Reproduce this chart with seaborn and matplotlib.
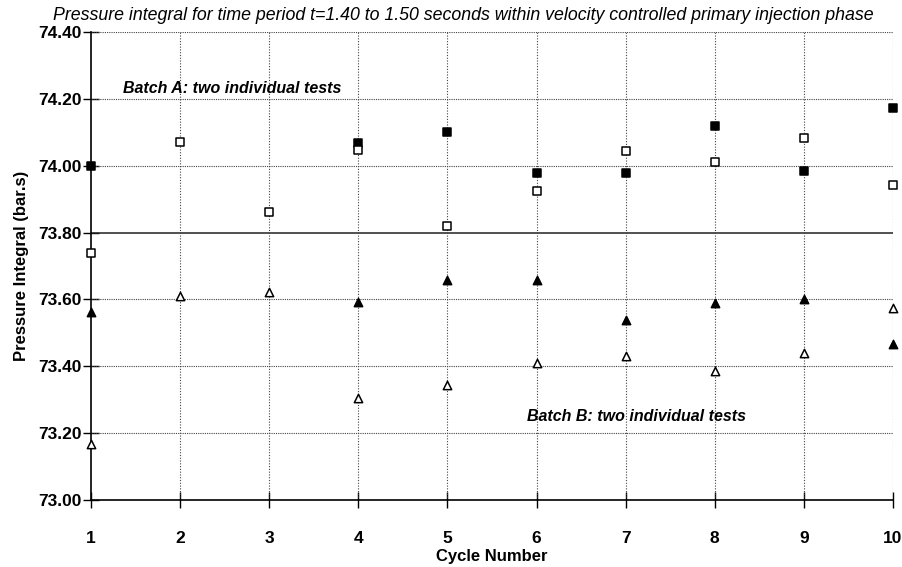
import numpy as np
import pandas as pd
import matplotlib
matplotlib.use("Agg")
import matplotlib.pyplot as plt
import seaborn as sns

cycles = [1, 2, 3, 4, 5, 6, 7, 8, 9, 10]
batch_a_test1 = [74.00, np.nan, np.nan, 74.068, 74.100, 73.977, 73.977, 74.120, 73.985, 74.173]
batch_a_test2 = [73.740, 74.072, 73.862, 74.048, 73.820, 73.923, 74.045, 74.011, 74.084, 73.942]
batch_b_test1 = [73.562, np.nan, np.nan, 73.593, 73.657, 73.657, 73.538, 73.590, 73.602, 73.468]
batch_b_test2 = [73.167, 73.610, 73.623, 73.305, 73.345, 73.410, 73.430, 73.387, 73.440, 73.575]
y_ticks = [73.00, 73.20, 73.40, 73.60, 73.80, 74.00, 74.20, 74.40]

sns.set_style("white")
plt.rcParams['font.family'] = ['Liberation Sans', 'DejaVu Sans']
plt.rcParams['text.color'] = 'black'
plt.rcParams['axes.labelcolor'] = 'black'
plt.rcParams['xtick.color'] = 'black'
plt.rcParams['ytick.color'] = 'black'

fig = plt.figure(figsize=(9.03, 5.67), dpi=100)
ax = fig.add_axes([91/903, 1-500/567, (893-91)/903, (500-32)/567])

series = [
    (batch_a_test1, 's', 'black'),
    (batch_a_test2, 's', 'white'),
    (batch_b_test1, '^', 'black'),
    (batch_b_test2, '^', 'white'),
]
for vals, mk, fc in series:
    df = pd.DataFrame({"Cycle": cycles, "Value": vals}).dropna()
    sns.scatterplot(data=df, x="Cycle", y="Value", marker=mk, s=36,
                    color=fc, edgecolor='black', linewidth=1.1, ax=ax,
                    clip_on=False, zorder=5)

ax.set_xlim(1, 10)
ax.set_ylim(73.0, 74.4)
ax.set_xticks(cycles)
ax.set_xticklabels([str(c) for c in cycles], fontweight='bold', fontsize=12.5)
ax.set_yticks(y_ticks)
ax.set_yticklabels([f"{t:.2f}" for t in y_ticks], fontweight='bold', fontsize=12.5)
ax.tick_params(axis='both', direction='inout', length=11, width=1, color='black',
               left=True, bottom=True)
ax.tick_params(axis='x', pad=17)
ax.tick_params(axis='y', pad=1)

for t in y_ticks[1:]:
    if abs(t - 73.80) < 1e-6:
        ax.axhline(t, color='#222222', lw=1.1, zorder=1)
    else:
        ax.axhline(t, color='#444444', lw=0.8, ls=(0, (1, 1)), zorder=1)
for c in cycles[1:]:
    ax.axvline(c, color='#444444', lw=0.8, ls=(0, (1, 1.5)), zorder=1)

for s in ['top', 'right']:
    ax.spines[s].set_visible(False)
ax.spines['left'].set_color('black')
ax.spines['left'].set_linewidth(1.2)
ax.spines['bottom'].set_color('black')
ax.spines['bottom'].set_linewidth(1.2)

ax.set_xlabel("Cycle Number", fontweight='bold', fontsize=12, labelpad=2)
ax.set_ylabel("Pressure Integral (bar.s)", fontweight='bold', fontsize=12, labelpad=7)

ax.text(1.36, 74.23, "Batch A: two individual tests", fontweight='bold',
        fontstyle='italic', fontsize=11.5, ha='left', va='center')
ax.text(5.89, 73.251, "Batch B: two individual tests", fontweight='bold',
        fontstyle='italic', fontsize=11.5, ha='left', va='center')

fig.text(53/903, 1-15/567,
         "Pressure integral for time period t=1.40 to 1.50 seconds within velocity controlled primary injection phase",
         fontstyle='italic', fontsize=12.8, ha='left', va='center')

fig.savefig("out.png", dpi=100)
